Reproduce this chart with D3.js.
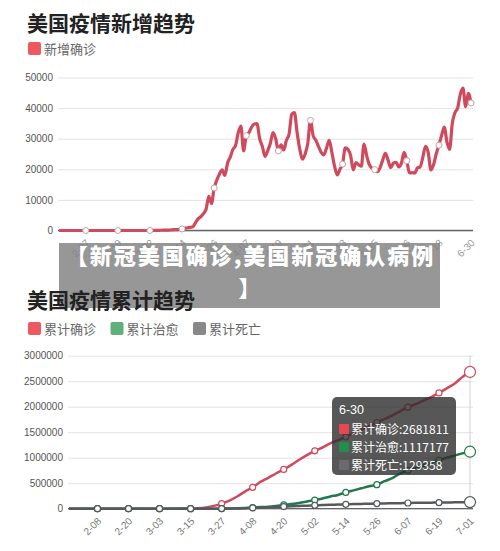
<!DOCTYPE html>
<html lang="zh">
  <head>
    <meta charset="UTF-8" />
    <title>美国疫情趋势</title>
    <style>
      body {
        margin: 0;
        background-color: #fff;
      }
      svg {
        display: block;
        font-family: "Liberation Sans", Arial, "Noto Sans CJK SC", sans-serif;
      }
      .cjk {
        font-family: "Noto Sans CJK SC", sans-serif;
      }
    </style>
  </head>

  <body>
    <div class="container"></div>

    <script src="https://d3js.org/d3.v7.min.js"></script>
    <script>
      // ---- data: daily new cases, 1-28 .. 6-30
      const newCases = [
        0, 0, 0, 1, 1, 0, 3, 0, 0, 1,
        0, 0, 0, 1, 0, 0, 0, 0, 0, 0,
        0, 0, 0, 0, 14, 0, 0, 0, 0, 0,
        1, 2, 5, 6, 20, 14, 22, 34, 74, 105,
        100, 120, 200, 270, 290, 350, 500, 700, 900, 1000,
        1200, 2500, 3800, 4500, 5500, 7000, 11200, 8800, 13900, 16500,
        18500, 19800, 18000, 22000, 24000, 26500, 27800, 32000, 34100, 26000,
        31000, 32000, 33800, 34800, 34900, 30000, 27500, 24200, 26000, 28500,
        32000, 30000, 26000, 28000, 26300, 29500, 31500, 38000, 38500, 32000,
        26500, 23300, 25000, 28500, 36000, 31000, 29500, 27500, 25500, 24700,
        27000, 29500, 25500, 21000, 18200, 20000, 21700, 27000, 26500, 24500,
        19800, 22200, 21500, 21000, 28200, 24500, 21500, 20300, 19900, 19200,
        20500, 23000, 25200, 23000, 20500, 22000, 22300, 20800, 22000, 25500,
        22800, 18800, 18900, 18800, 20500, 20800, 24000, 27500, 25500, 19800,
        21500, 25000, 27900, 31000, 33800, 29000, 26500, 35000, 38500, 40000,
        44500, 46500, 40500, 44800, 41700
      ];
      const topTicks = ["2-07", "2-19", "3-02", "3-14", "3-26", "4-07", "4-19",
        "5-01", "5-13", "5-25", "6-06", "6-18", "6-30"];
      const topYTicks = [0, 10000, 20000, 30000, 40000, 50000];

      // ---- data: cumulative, sampled dates
      const cumDates = ["1-28", "2-08", "2-20", "3-03", "3-06", "3-09", "3-12", "3-15",
        "3-18", "3-21", "3-24", "3-27", "3-30", "4-02", "4-05", "4-08", "4-11", "4-14",
        "4-17", "4-20", "4-23", "4-26", "4-29", "5-02", "5-05", "5-08", "5-11", "5-14",
        "5-17", "5-20", "5-23", "5-26", "5-29", "6-01", "6-04", "6-07", "6-10", "6-13",
        "6-16", "6-19", "6-22", "6-25", "6-28", "7-01"];
      const cumConfirmed = [5, 12, 15, 120, 320, 700, 1700, 3500,
        9000, 25000, 55000, 100000, 160000, 240000, 335000, 420000, 525000, 605000,
        690000, 770000, 860000, 960000, 1050000, 1135000, 1200000, 1280000, 1345000, 1410000,
        1480000, 1550000, 1620000, 1690000, 1760000, 1830000, 1910000, 1990000, 2050000, 2120000,
        2190000, 2270000, 2360000, 2450000, 2580000, 2681811];
      const cumRecovered = [0, 0, 5, 7, 8, 10, 12, 100,
        150, 200, 400, 1000, 5000, 9000, 15000, 23000, 32000, 40000,
        55000, 75000, 90000, 110000, 140000, 170000, 200000, 240000, 270000, 320000,
        360000, 400000, 440000, 471000, 540000, 600000, 690000, 750000, 800000, 850000,
        900000, 950000, 1000000, 1040000, 1085000, 1117177];
      const cumDeaths = [0, 0, 0, 6, 11, 22, 40, 60,
        150, 300, 700, 1500, 3000, 6000, 9500, 15000, 21000, 27000,
        35000, 42000, 50000, 55000, 60000, 66000, 71000, 77000, 81000, 86000,
        90000, 94000, 98000, 100000, 104000, 106000, 109000, 112000, 115000, 117000,
        119000, 121000, 122000, 125000, 127000, 129358];
      const bottomTicks = ["2-08", "2-20", "3-03", "3-15", "3-27", "4-08", "4-20",
        "5-02", "5-14", "5-26", "6-07", "6-19", "7-01"];
      const bottomYTicks = [0, 500000, 1000000, 1500000, 2000000, 2500000, 3000000];
      const tipDate = "6-30";

      const seriesNames = ["累计确诊", "累计治愈", "累计死亡"];
      const seriesData = [cumConfirmed, cumRecovered, cumDeaths];
      const lineColors = ["#cf4a5c", "#22784a", "#55595c"];
      const legendColors = ["#ec5a60", "#5fb07a", "#888888"];
      const tipColors = ["#e8474f", "#1f8f4a", "#6a6a70"];

      const w = 500, h = 551;
      const fmt = d3.timeFormat("%-m-%d");
      const topDates = d3.timeDay.range(new Date(2020, 0, 28), new Date(2020, 6, 1)).map(fmt);
      const bottomDates = d3.timeDay.range(new Date(2020, 0, 28), new Date(2020, 6, 2)).map(fmt);

      const svg = d3.select(".container")
                    .append("svg")
                    .attr("width", w)
                    .attr("height", h);

      // ---------- titles / legends
      const title = (y, t) => svg.append("text")
        .attr("class", "cjk")
        .attr("x", 27).attr("y", y)
        .attr("font-size", 21).attr("font-weight", 700)
        .attr("fill", "#222").text(t);

      const legend = (y, items) => {
        let x = 28;
        items.forEach(([name, color]) => {
          svg.append("rect").attr("x", x).attr("y", y).attr("width", 13).attr("height", 13)
             .attr("rx", 2).attr("fill", color);
          svg.append("text").attr("class", "cjk")
             .attr("x", x + 16).attr("y", y + 11.5)
             .attr("font-size", 13).attr("fill", "#666").text(name);
          x += 82.5;
        });
      };

      title(31, "美国疫情新增趋势");
      legend(42, [["新增确诊", legendColors[0]]]);

      // ---------- top chart
      const xTop = d3.scalePoint().domain(topDates).range([59, 471]);
      const yTop = d3.scaleLinear().domain([0, 50000]).range([230.5, 77.5]);

      const gy1 = svg.append("g")
         .attr("transform", "translate(58,0)")
         .call(d3.axisLeft(yTop).tickValues(topYTicks).tickSize(-415).tickFormat(d3.format("d")));
      gy1.select(".domain").remove();
      gy1.selectAll("line").attr("stroke", "#e3e3e3");
      gy1.selectAll("text").attr("x", -5).attr("fill", "#555").attr("font-size", 10);

      const gx1 = svg.append("g")
         .attr("transform", "translate(0,230.5)")
         .call(d3.axisBottom(xTop).tickValues(topTicks).tickSize(0));
      gx1.select(".domain").attr("d", "M58,0H473").attr("stroke", "#666").attr("stroke-width", 1.3);
      gx1.selectAll("text")
         .attr("text-anchor", "end").attr("y", 0).attr("dy", 0)
         .attr("transform", "translate(4,13) rotate(-45)")
         .attr("fill", "#999").attr("font-size", 10);

      const topLine = d3.line()
        .x((d, i) => xTop(topDates[i]))
        .y(d => yTop(d))
        .curve(d3.curveMonotoneX);

      svg.append("path")
         .datum(newCases)
         .attr("d", topLine)
         .attr("fill", "none")
         .attr("stroke", lineColors[0])
         .attr("stroke-width", 3.2)
         .attr("stroke-linejoin", "round");

      svg.selectAll("circle.top")
         .data(topTicks)
         .enter().append("circle")
         .attr("class", "top")
         .attr("cx", d => xTop(d))
         .attr("cy", d => yTop(newCases[topDates.indexOf(d)]))
         .attr("r", 3)
         .attr("fill", "#fff")
         .attr("stroke", "#c9a0a6")
         .attr("stroke-width", 1);

      // ---------- overlay banner
      svg.append("rect")
         .attr("x", 59).attr("y", 243).attr("width", 381).attr("height", 65)
         .attr("fill", "rgba(128,128,128,0.82)");
      svg.append("text").attr("class", "cjk")
         .attr("x", 250.5).attr("y", 264).attr("text-anchor", "middle")
         .attr("font-size", 22).attr("font-weight", 900).attr("fill", "#fff")
         .attr("letter-spacing", 2)
         .text("【新冠美国确诊,美国新冠确认病例");
      svg.append("text").attr("class", "cjk")
         .attr("x", 249.5).attr("y", 296).attr("text-anchor", "middle")
         .attr("font-size", 22).attr("font-weight", 900).attr("fill", "#fff")
         .text("】");

      title(308, "美国疫情累计趋势");
      legend(322, seriesNames.map((n, i) => [n, legendColors[i]]));

      // ---------- bottom chart
      const xBot = d3.scalePoint().domain(bottomDates).range([69, 470]);
      const yBot = d3.scaleLinear().domain([0, 3000000]).range([508.7, 355.7]);

      const gy2 = svg.append("g")
         .attr("transform", "translate(68,0)")
         .call(d3.axisLeft(yBot).tickValues(bottomYTicks).tickSize(-405).tickFormat(d3.format("d")));
      gy2.select(".domain").remove();
      gy2.selectAll("line").attr("stroke", "#e3e3e3");
      gy2.selectAll("text").attr("x", -5).attr("fill", "#555").attr("font-size", 10);

      // axis pointer
      const lastX = xBot(bottomDates[bottomDates.length - 1]);
      svg.append("line")
         .attr("x1", lastX).attr("x2", lastX)
         .attr("y1", 355.7).attr("y2", 508.7)
         .attr("stroke", "#d0d0d0").attr("stroke-width", 1);

      const gx2 = svg.append("g")
         .attr("transform", "translate(0,508.7)")
         .call(d3.axisBottom(xBot).tickValues(bottomTicks).tickSize(0));
      gx2.select(".domain").attr("d", "M68,0H473").attr("stroke", "#666").attr("stroke-width", 1.3);
      gx2.selectAll("text")
         .attr("text-anchor", "end").attr("y", 0).attr("dy", 0)
         .attr("transform", "translate(4,13) rotate(-45)")
         .attr("fill", "#777").attr("font-size", 10);

      const botLine = d3.line()
        .x((d, i) => xBot(cumDates[i]))
        .y(d => yBot(d))
        .curve(d3.curveMonotoneX);

      seriesData.forEach((vals, k) => {
        svg.append("path")
           .datum(vals)
           .attr("d", botLine)
           .attr("fill", "none")
           .attr("stroke", lineColors[k])
           .attr("stroke-width", 2.5)
           .attr("stroke-linejoin", "round");

        svg.selectAll("circle.s" + k)
           .data(bottomTicks)
           .enter().append("circle")
           .attr("class", "s" + k)
           .attr("cx", d => xBot(d))
           .attr("cy", d => yBot(vals[cumDates.indexOf(d)]))
           .attr("r", (d, i) => i === bottomTicks.length - 1 ? 5.5 : 3)
           .attr("fill", "#fff")
           .attr("stroke", lineColors[k])
           .attr("stroke-width", 1.2);
      });

      // ---------- tooltip
      const tip = svg.append("g").attr("transform", "translate(332,397)");
      tip.append("rect")
         .attr("width", 124).attr("height", 78).attr("rx", 5)
         .attr("fill", "rgba(45,45,45,0.8)");
      tip.append("text")
         .attr("x", 7).attr("y", 17)
         .attr("font-size", 12.5).attr("fill", "#fff")
         .text(tipDate);
      seriesNames.forEach((n, k) => {
        const last = seriesData[k][seriesData[k].length - 1];
        tip.append("rect")
           .attr("x", 7).attr("y", 27 + k * 18).attr("width", 10).attr("height", 10)
           .attr("rx", 1).attr("fill", tipColors[k]);
        tip.append("text").attr("class", "cjk")
           .attr("x", 19).attr("y", 36.5 + k * 18)
           .attr("font-size", 12).attr("fill", "#fff")
           .text(n + ":" + last);
      });
    </script>
  </body>
</html>
